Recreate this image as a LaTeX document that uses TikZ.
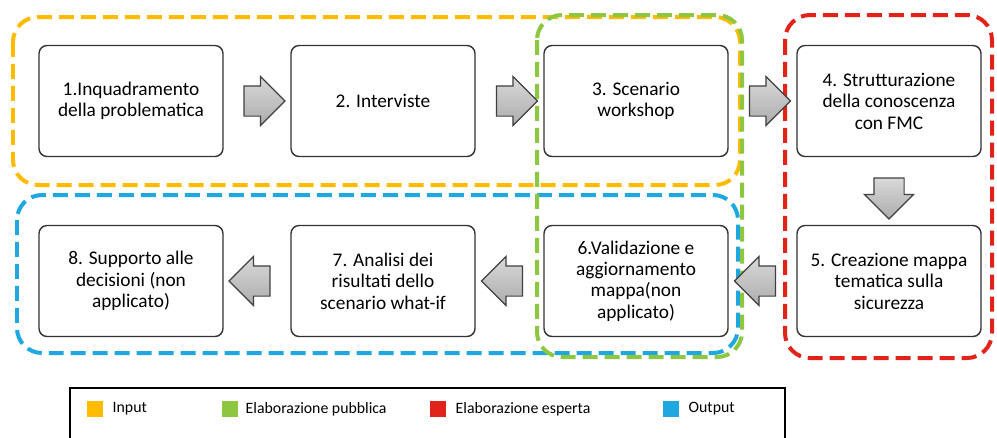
\documentclass[tikz,border=0pt]{standalone}
\usepackage{fontspec}
\setmainfont{Carlito}
\usepackage{xcolor}
\usetikzlibrary{shapes.arrows,calc,positioning}

\definecolor{cInput}{HTML}{FFBB00}
\definecolor{cPubblica}{HTML}{8DC63F}
\definecolor{cEsperta}{HTML}{E2231A}
\definecolor{cOutput}{HTML}{1FA8E0}

\begin{document}
\begin{tikzpicture}
            [x=0.02cm, y=-0.02cm,
            fase/.style = {draw=black!80, line width=0.8pt, rectangle,
                        rounded corners=0.16cm, fill=white,
                        minimum width=3.68cm, minimum height=2.22cm,
                        align=center, font=\fontsize{11}{12.2}\selectfont},
            freccia/.style = {single arrow, draw=black!75, line width=0.7pt,
                        top color=gray!30, bottom color=gray!65,
                        inner xsep=0pt, inner ysep=0.29cm,
                        minimum height=0.82cm,
                        single arrow head extend=0.19cm},
            giu/.style = {shape border rotate=270,
                        inner xsep=0.29cm, inner ysep=0pt},
            gruppo/.style = {line width=0.08cm, rounded corners=0.5cm,
                        dash pattern=on 0.3cm off 0.14cm},
            legsq/.style = {rectangle, minimum size=0.32cm, inner sep=0pt},
            leg/.style = {font=\fontsize{9}{10}\selectfont, inner sep=0pt}]
            \useasboundingbox[fill=white] (0,0) rectangle (997,437);

            % Gruppi tratteggiati
            \draw[gruppo, cInput] (13,17) rectangle (740,185);
            \draw[gruppo, cOutput] (17,195) rectangle (738,353);
            \draw[gruppo, cPubblica] (537,15) rectangle (742,357);
            \draw[gruppo, cEsperta] (785,15) rectangle (992,358);

            % Fasi
            \node[fase] (F1) at (131,101) {1.Inquadramento\\della problematica};
            \node[fase] (F2) at (383,101) {2. Interviste};
            \node[fase] (F3) at (636,101) {3. Scenario\\workshop};
            \node[fase] (F4) at (889,101) {4. Strutturazione\\della conoscenza\\con FMC};
            \node[fase] (F5) at (889,281) {5. Creazione mappa\\tematica sulla\\sicurezza};
            \node[fase] (F6) at (636,281) {6.Validazione e\\aggiornamento\\mappa(non\\applicato)};
            \node[fase] (F7) at (383,281) {7. Analisi dei\\risultati dello\\scenario what-if};
            \node[fase] (F8) at (131,281) {8. Supporto alle\\decisioni (non\\applicato)};

            % Frecce
            \node[freccia] (A12) at ($(F1.east)!0.5!(F2.west)$) {};
            \node[freccia] (A23) at ($(F2.east)!0.5!(F3.west)$) {};
            \node[freccia] (A34) at ($(F3.east)!0.5!(F4.west)$) {};
            \node[freccia, giu] (A45) at ($(F4.south)!0.5!(F5.north)$) {};
            \node[freccia, shape border rotate=180] (A56) at ($(F5.west)!0.5!(F6.east)$) {};
            \node[freccia, shape border rotate=180] (A67) at ($(F6.west)!0.5!(F7.east)$) {};
            \node[freccia, shape border rotate=180] (A78) at ($(F7.west)!0.5!(F8.east)$) {};

            % Legenda
            \draw[line width=1.2pt] (70,450) -- (70,388) -- (785,388) -- (785,450);
            \node[legsq, fill=cInput, label={[leg, label distance=0.18cm]right:Input}] (LIn) at (95,409) {};
            \node[legsq, fill=cPubblica, label={[leg, label distance=0.14cm]right:Elaborazione pubblica}] (LPub) at (230,409) {};
            \node[legsq, fill=cEsperta, label={[leg, label distance=0.18cm]right:Elaborazione esperta}] (LEsp) at (438,409) {};
            \node[legsq, fill=cOutput, label={[leg, label distance=0.18cm]right:Output}] (LOut) at (671,409) {};
        \end{tikzpicture}
\end{document}
